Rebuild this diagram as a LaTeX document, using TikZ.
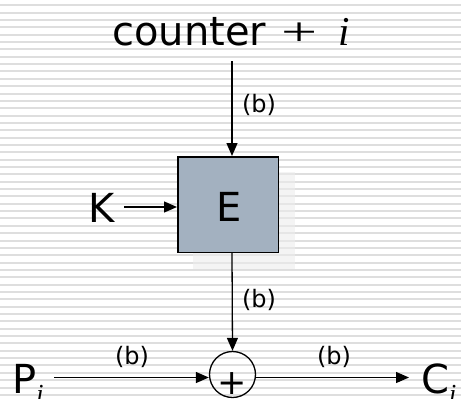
\documentclass[tikz,border=0pt]{standalone}
\usepackage{fontspec}
\setmainfont{DejaVu Sans}
\newfontfamily\tnr{Liberation Serif}
\usetikzlibrary{arrows.meta}
\definecolor{boxfill}{HTML}{A3B1C0}
\definecolor{stripe}{HTML}{DEDEDE}
\begin{document}
\begin{tikzpicture}[x=1pt,y=-1pt,
  >={Triangle[length=13pt,width=11pt]},
  conn/.style={->,line width=1.3pt},
  lbl/.style={font=\fontsize{24}{24}\selectfont, inner sep=0},
  big/.style={font=\fontsize{40}{40}\selectfont, inner sep=0}]
\useasboundingbox (0,0) rectangle (461,399);
\foreach \k in {0,...,54} {
  \fill[stripe] (0,{4.3+7.35*\k}) rectangle (461,{6.3+7.35*\k});
}
% shadow
\fill[gray!15,opacity=0.6] (193,172) rectangle (295,269);
% block E
\node[draw, fill=boxfill, minimum width=100.5pt, minimum height=95.5pt, line width=1.5pt, inner sep=0] (E) at (228,204.5) {};
\node[big] (Et) at (229,207) {E};
% top text
\node[big, anchor=base west] (ctr) at (112,45) {counter};
\node[font=\tnr\fontsize{40}{40}\selectfont, inner sep=0] (pl) at (300,34) {\scalebox{1.6}[1]{+}};
\node[font=\tnr\itshape\fontsize{41}{41}\selectfont, inner sep=0, anchor=base west] (ii) at (338,45) {i};
\coordinate (top) at (232,61);
\draw[conn] (top) -- (top |- E.north);
\node[lbl] (b1) at (259,105) {(b)};
% K
\node[big] (K) at (102,208) {K};
\coordinate (ka) at (124,207);
\draw[conn] (ka) -- (ka -| E.west);
% XOR
\node[draw, circle, minimum size=46pt, inner sep=0, line width=1.3pt] (X) at (232.5,374.5) {};
\node[font=\fontsize{35}{35}\selectfont, inner sep=0] (xp) at (232.5,384) {+};
\draw[conn] (top |- E.south) -- (X.north);
\node[lbl] (b2) at (259,300) {(b)};
% P and C
\node[big, anchor=base west] (P) at (12,393) {P\raisebox{-9pt}{\tnr\itshape\fontsize{26}{26}\selectfont i}};
\node[big, anchor=base west] (C) at (421,393) {C\raisebox{-9pt}{\tnr\itshape\fontsize{26}{26}\selectfont i}};
\coordinate (pa) at (54,377.5);
\coordinate (ce) at (409,377.5);
\draw[conn] (pa) -- (pa -| X.west);
\draw[conn] (ce -| X.east) -- (ce);
\node[lbl] (b3) at (132,357) {(b)};
\node[lbl] (b4) at (334,357) {(b)};
\end{tikzpicture}
\end{document}
